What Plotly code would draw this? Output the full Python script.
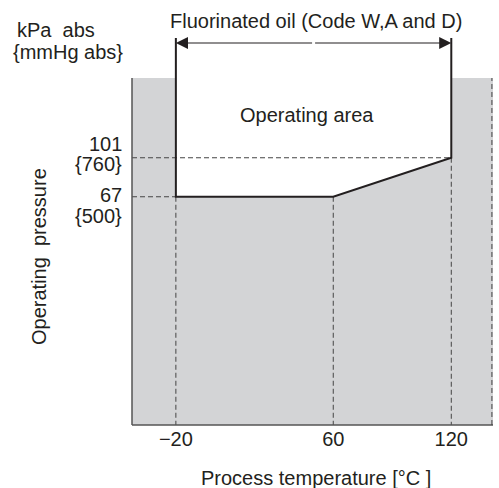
import plotly.graph_objects as go

# ---- data ----
temps = [-20, 60, 120]                 # process temperature break points [°C]
pressure_limit = [67, 67, 101]         # lower pressure limit [kPa abs]
xtick_vals = [-20, 60, 120]
xtick_labels = ["\u221220", "60", "120"]
ytick_vals = [101, 67]
ytick_kpa = ["101", "67"]
ytick_mmhg = ["{760}", "{500}"]

# ---- layout constants (schematic axes) ----
X_RANGE = [-42.3, 141.2]
Y_RANGE = [-132.0, 205.4]
GRAY_TOP = 170.5
Y_TOP = Y_RANGE[1]
ARROW_Y = 201.0

INK = "#231f20"
GRAY = "#d3d4d6"
FONT = "Liberation Sans, Arial, sans-serif"
FS = 20

ML, MR, MT, MB = 132, 6, 38, 63
PW, PH = 499 - ML - MR, 488 - MT - MB


def px(xp):
    return (xp - ML) / PW


def py(yp):
    return (488 - MB - yp) / PH


fig = go.Figure()

# white operating area (no outline)
fig.add_trace(go.Scatter(
    x=[temps[0]] + temps + [temps[-1]],
    y=[Y_TOP] + pressure_limit + [Y_TOP],
    fill="toself", fillcolor="white", mode="lines",
    line=dict(width=0, color="white"), hoverinfo="skip", showlegend=False))

dash = dict(color="#444444", width=1, dash="5px,3px")
# horizontal dashed reference lines
fig.add_trace(go.Scatter(x=[X_RANGE[0], temps[-1]], y=[pressure_limit[-1]] * 2,
                         mode="lines", line=dash, showlegend=False, hoverinfo="skip"))
fig.add_trace(go.Scatter(x=[X_RANGE[0], temps[0]], y=[pressure_limit[0]] * 2,
                         mode="lines", line=dash, showlegend=False, hoverinfo="skip"))
# vertical dashed reference lines
for t, p in zip(temps, pressure_limit):
    fig.add_trace(go.Scatter(x=[t, t], y=[p, Y_RANGE[0]], mode="lines", line=dash,
                             showlegend=False, hoverinfo="skip"))

# operating area outline
fig.add_trace(go.Scatter(
    x=[temps[0]] + temps + [temps[-1]],
    y=[Y_TOP] + pressure_limit + [Y_TOP],
    mode="lines", line=dict(color=INK, width=2), hoverinfo="skip", showlegend=False))

shapes = [
    dict(type="rect", xref="paper", yref="y", x0=0, x1=1, y0=Y_RANGE[0], y1=GRAY_TOP,
         fillcolor=GRAY, line=dict(width=0), layer="below"),
    dict(type="line", xref="paper", yref="y", x0=0, x1=0, y0=Y_RANGE[0], y1=GRAY_TOP,
         line=dict(color="#555555", width=1.5)),
    dict(type="line", xref="paper", yref="paper", x0=0, x1=1, y0=0, y1=0,
         line=dict(color="#555555", width=1.5)),
    dict(type="line", xref="paper", yref="y", x0=0.997, x1=0.997, y0=Y_RANGE[0], y1=GRAY_TOP,
         line=dict(color="#444444", width=1, dash="5px,3px")),
]

tfont = dict(family=FONT, size=FS, color=INK)


def label(text, x, y, **kw):
    d = dict(text=text, xref="paper", yref="paper", x=x, y=y, showarrow=False,
             font=tfont, xanchor="center", yanchor="middle")
    d.update(kw)
    return d


annotations = [
    label("Fluorinated oil (Code W,A and D)", px(315.5), py(21)),
    label("kPa\u00a0\u00a0abs", px(56), py(30.5)),
    label("{mmHg abs}", px(67.5), py(52)),
    label("Operating area", px(307), py(115)),
    label("Operating\u00a0\u00a0pressure", px(39), py(257), textangle=-90),
    label("Process temperature [°C ]", px(316), py(478)),
]
# arrows of the bracket
for end in (temps[0], temps[-1]):
    annotations.append(dict(x=end, y=ARROW_Y, ax=(temps[0] + temps[-1]) / 2, ay=ARROW_Y,
                            xref="x", yref="y", axref="x", ayref="y", text="",
                            showarrow=True, arrowhead=2, arrowsize=2.2, arrowwidth=1.1,
                            arrowcolor=INK, standoff=0))
# y tick labels (two lines each)
for v, top, bot, yt, yb in zip(ytick_vals, ytick_kpa, ytick_mmhg, [143.5, 195.5], [164, 216]):
    annotations.append(label(top, px(124), py(yt), xanchor="right"))
    annotations.append(label(bot, px(124), py(yb), xanchor="right"))

fig.update_layout(
    width=499, height=488,
    margin=dict(l=ML, r=MR, t=MT, b=MB),
    paper_bgcolor="white", plot_bgcolor="white",
    showlegend=False, shapes=shapes, annotations=annotations,
    xaxis=dict(range=X_RANGE, tickvals=xtick_vals, ticktext=xtick_labels,
               showgrid=False, zeroline=False, showline=False, ticks="",
               tickfont=tfont, fixedrange=True),
    yaxis=dict(range=Y_RANGE, showticklabels=False, showgrid=False, zeroline=False,
               showline=False, ticks="", fixedrange=True),
)

fig.write_html("out.html", config={"displayModeBar": False},
               post_script="document.body.style.margin='0px';")
